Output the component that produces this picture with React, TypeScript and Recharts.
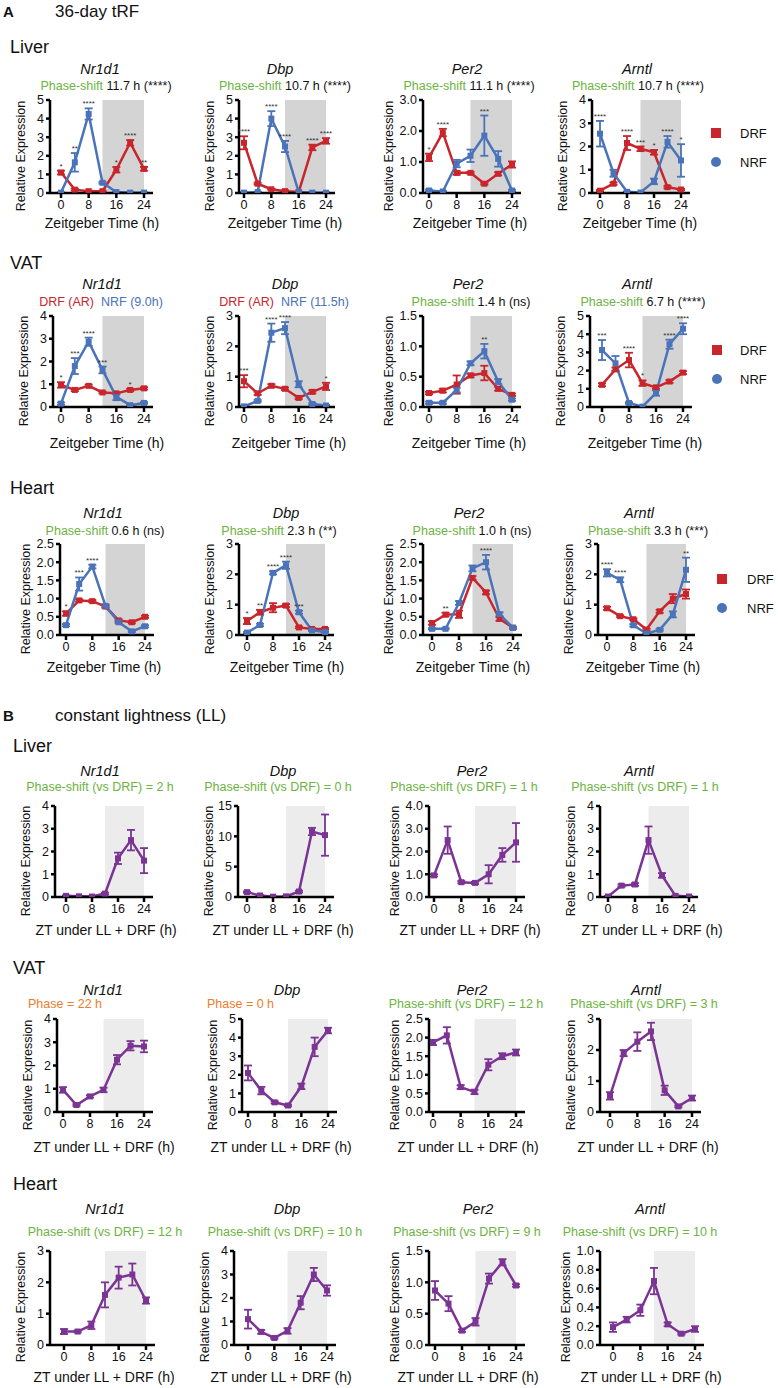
import React from 'react';
import { LineChart, Line, XAxis, YAxis, ReferenceArea, ErrorBar, LabelList } from 'recharts';

const zt = [0, 4, 8, 12, 16, 20, 24];
const xTicks = [0, 8, 16, 24];
const genes = ['Nr1d1', 'Dbp', 'Per2', 'Arntl'];

// ---- A: 36-day tRF (mean / sem), DRF vs NRF ----
const liverNr1d1DRF = [1.1, 0.18, 0.1, 0.1, 1.25, 2.7, 1.3];
const liverNr1d1DRFsem = [0.1, 0.05, 0.03, 0.03, 0.15, 0.15, 0.1];
const liverNr1d1NRF = [0.02, 1.65, 4.25, 0.55, 0.05, 0.02, 0.02];
const liverNr1d1NRFsem = [0.02, 0.5, 0.3, 0.05, 0.02, 0.02, 0.02];
const liverNr1d1Stars = ['*', '**', '****', '', '*', '****', '**'];

const liverDbpDRF = [2.7, 0.5, 0.2, 0.1, 0.05, 2.45, 2.8];
const liverDbpDRFsem = [0.35, 0.05, 0.03, 0.05, 0.02, 0.15, 0.15];
const liverDbpNRF = [0.02, 0.05, 4.0, 2.5, 0.05, 0.02, 0.02];
const liverDbpNRFsem = [0.02, 0.02, 0.4, 0.3, 0.02, 0.02, 0.02];
const liverDbpStars = ['****', '', '****', '****', '', '****', '****'];

const liverPer2DRF = [1.15, 1.95, 0.65, 0.65, 0.3, 0.62, 0.92];
const liverPer2DRFsem = [0.12, 0.12, 0.06, 0.03, 0.03, 0.05, 0.1];
const liverPer2NRF = [0.08, 0.05, 0.95, 1.2, 1.85, 1.1, 0.08];
const liverPer2NRFsem = [0.03, 0.02, 0.12, 0.2, 0.65, 0.25, 0.03];
const liverPer2Stars = ['*', '****', '', '', '***', '', ''];

const liverArntlDRF = [0.1, 0.4, 2.15, 1.9, 1.75, 0.25, 0.15];
const liverArntlDRFsem = [0.03, 0.05, 0.3, 0.1, 0.1, 0.05, 0.03];
const liverArntlNRF = [2.55, 0.85, 0.05, 0.02, 0.5, 2.2, 1.4];
const liverArntlNRFsem = [0.55, 0.15, 0.02, 0.02, 0.12, 0.25, 0.7];
const liverArntlStars = ['****', '', '****', '***', '*', '****', '*'];

const vatNr1d1DRF = [0.97, 0.75, 0.93, 0.64, 0.6, 0.75, 0.82];
const vatNr1d1DRFsem = [0.12, 0.05, 0.05, 0.04, 0.04, 0.05, 0.05];
const vatNr1d1NRF = [0.15, 1.8, 2.87, 1.63, 0.45, 0.08, 0.18];
const vatNr1d1NRFsem = [0.05, 0.35, 0.18, 0.15, 0.15, 0.04, 0.04];
const vatNr1d1Stars = ['*', '***', '****', '***', '', '*', ''];

const vatDbpDRF = [0.85, 0.45, 0.7, 0.6, 0.3, 0.5, 0.68];
const vatDbpDRFsem = [0.2, 0.05, 0.05, 0.04, 0.04, 0.05, 0.12];
const vatDbpNRF = [0.02, 0.2, 2.45, 2.6, 0.75, 0.1, 0.05];
const vatDbpNRFsem = [0.02, 0.03, 0.3, 0.2, 0.1, 0.03, 0.02];
const vatDbpStars = ['***', '', '****', '****', '', '', '*'];

const vatPer2DRF = [0.23, 0.27, 0.37, 0.52, 0.56, 0.3, 0.2];
const vatPer2DRFsem = [0.02, 0.03, 0.15, 0.03, 0.12, 0.03, 0.02];
const vatPer2NRF = [0.07, 0.07, 0.28, 0.72, 0.92, 0.42, 0.12];
const vatPer2NRFsem = [0.02, 0.02, 0.04, 0.03, 0.12, 0.04, 0.02];
const vatPer2Stars = ['', '', '', '', '**', '', ''];

const vatArntlDRF = [1.22, 2.07, 2.58, 1.31, 1.08, 1.4, 1.89];
const vatArntlDRFsem = [0.08, 0.1, 0.4, 0.15, 0.08, 0.08, 0.08];
const vatArntlNRF = [3.13, 2.4, 0.22, 0.02, 0.77, 3.45, 4.3];
const vatArntlNRFsem = [0.55, 0.4, 0.05, 0.02, 0.15, 0.25, 0.3];
const vatArntlStars = ['***', '', '****', '*', '', '****', '****'];

const heartNr1d1DRF = [0.59, 0.95, 0.93, 0.78, 0.4, 0.35, 0.5];
const heartNr1d1DRFsem = [0.06, 0.03, 0.03, 0.03, 0.03, 0.03, 0.03];
const heartNr1d1NRF = [0.27, 1.4, 1.88, 0.8, 0.35, 0.1, 0.24];
const heartNr1d1NRFsem = [0.03, 0.18, 0.05, 0.04, 0.03, 0.02, 0.03];
const heartNr1d1Stars = ['*', '***', '****', '', '', '', ''];

const heartDbpDRF = [0.46, 0.75, 0.9, 0.97, 0.25, 0.2, 0.2];
const heartDbpDRFsem = [0.1, 0.08, 0.15, 0.05, 0.03, 0.03, 0.03];
const heartDbpNRF = [0.08, 0.33, 2.05, 2.3, 0.75, 0.15, 0.1];
const heartDbpNRFsem = [0.02, 0.04, 0.05, 0.12, 0.05, 0.02, 0.02];
const heartDbpStars = ['*', '**', '****', '****', '***', '', ''];

const heartPer2DRF = [0.33, 0.56, 0.57, 1.57, 1.17, 0.44, 0.2];
const heartPer2DRFsem = [0.05, 0.05, 0.1, 0.05, 0.05, 0.05, 0.03];
const heartPer2NRF = [0.17, 0.17, 0.88, 1.83, 2.0, 0.57, 0.2];
const heartPer2NRFsem = [0.02, 0.02, 0.05, 0.08, 0.2, 0.05, 0.02];
const heartPer2Stars = ['', '**', '', '', '****', '', ''];

const heartArntlDRF = [0.88, 0.62, 0.52, 0.18, 0.78, 1.2, 1.35];
const heartArntlDRFsem = [0.05, 0.03, 0.03, 0.03, 0.05, 0.15, 0.15];
const heartArntlNRF = [2.05, 1.82, 0.32, 0.05, 0.17, 0.68, 2.15];
const heartArntlNRFsem = [0.12, 0.08, 0.04, 0.02, 0.03, 0.1, 0.4];
const heartArntlStars = ['****', '****', '', '', '', '', '**'];

// ---- B: constant lightness + DRF ----
const llLiverNr1d1 = [0.05, 0.03, 0.02, 0.15, 1.7, 2.5, 1.6];
const llLiverNr1d1Sem = [0.02, 0.02, 0.02, 0.04, 0.25, 0.45, 0.55];
const llLiverDbp = [0.8, 0.25, 0.05, 0.1, 0.9, 10.8, 10.2];
const llLiverDbpSem = [0.1, 0.05, 0.03, 0.05, 0.15, 0.6, 3.4];
const llLiverPer2 = [0.95, 2.5, 0.65, 0.62, 1.0, 1.85, 2.4];
const llLiverPer2Sem = [0.05, 0.6, 0.05, 0.05, 0.4, 0.3, 0.85];
const llLiverArntl = [0.02, 0.5, 0.55, 2.5, 0.95, 0.05, 0.02];
const llLiverArntlSem = [0.02, 0.05, 0.06, 0.6, 0.1, 0.02, 0.02];

const llVatNr1d1 = [0.95, 0.3, 0.67, 0.95, 2.25, 2.85, 2.82];
const llVatNr1d1Sem = [0.12, 0.04, 0.05, 0.1, 0.2, 0.2, 0.25];
const llVatDbp = [2.1, 1.15, 0.52, 0.35, 1.38, 3.5, 4.38];
const llVatDbpSem = [0.4, 0.2, 0.06, 0.05, 0.15, 0.5, 0.15];
const llVatPer2 = [1.87, 2.06, 0.67, 0.54, 1.27, 1.5, 1.6];
const llVatPer2Sem = [0.07, 0.22, 0.05, 0.06, 0.15, 0.08, 0.08];
const llVatArntl = [0.52, 1.9, 2.27, 2.6, 0.7, 0.18, 0.45];
const llVatArntlSem = [0.12, 0.1, 0.3, 0.28, 0.15, 0.03, 0.08];

const llHeartNr1d1 = [0.43, 0.43, 0.63, 1.6, 2.15, 2.25, 1.42];
const llHeartNr1d1Sem = [0.08, 0.03, 0.12, 0.4, 0.35, 0.35, 0.1];
const llHeartDbp = [1.1, 0.56, 0.3, 0.6, 1.8, 3.0, 2.32];
const llHeartDbpSem = [0.4, 0.08, 0.04, 0.12, 0.28, 0.28, 0.22];
const llHeartPer2 = [0.87, 0.66, 0.23, 0.37, 1.06, 1.32, 0.95];
const llHeartPer2Sem = [0.15, 0.12, 0.02, 0.06, 0.08, 0.05, 0.02];
const llHeartArntl = [0.19, 0.27, 0.37, 0.68, 0.22, 0.12, 0.17];
const llHeartArntlSem = [0.05, 0.03, 0.06, 0.14, 0.02, 0.01, 0.03];

// y tick labels
const t5 = [0, 1, 2, 3, 4, 5];
const t4 = [0, 1, 2, 3, 4];
const t3 = [0, 1, 2, 3];
const t15 = [0, 0.5, 1, 1.5];
const t25 = [0, 0.5, 1, 1.5, 2, 2.5];
const tDbp15 = [0, 5, 10, 15];
const t10 = [0, 0.2, 0.4, 0.6, 0.8, 1];

const shiftA = ['11.7 h (****)', '10.7 h (****)', '11.1 h (****)', '10.7 h (****)',
  '', '', '1.4 h (ns)', '6.7 h (****)',
  '0.6 h (ns)', '2.3 h (**)', '1.0 h (ns)', '3.3 h (***)'];
const shiftB = ['2 h', '0 h', '1 h', '1 h', '', '', '12 h', '3 h', '12 h', '10 h', '9 h', '10 h'];

const DRF = '#c9252c';
const NRF = '#4a73b9';
const LL = '#7b3494';
const GREEN = '#6db33f';
const ORANGE = '#ec7c2e';
const FONT = '"Liberation Sans", Arial, Helvetica, sans-serif';

type Row = { top: number; bottom: number; geneY: number; subY: number; titleY: number;
  axisX: number[]; x0: number[]; x24: number[]; geneX: number[]; subX: number[]; titleX: number[] };

const rowsA: Row[] = [
  { top: 100, bottom: 193, geneY: 69, subY: 86, titleY: 223,
    axisX: [50, 239, 423, 592], x0: [61, 244, 429, 600], x24: [144, 326, 512, 681],
    geneX: [100, 280, 467, 637], subX: [106, 285, 469, 638], titleX: [102, 285, 470, 640] },
  { top: 316, bottom: 407, geneY: 284, subY: 302, titleY: 443,
    axisX: [53, 239, 423, 590], x0: [61, 244, 429, 602], x24: [144, 326, 512, 683],
    geneX: [102, 285, 468, 637], subX: [101, 284, 471, 643], titleX: [107, 289, 469, 645] },
  { top: 544, bottom: 635, geneY: 513, subY: 531, titleY: 667,
    axisX: [60, 239, 423, 598], x0: [66, 247, 432, 607], x24: [145, 325, 513, 686],
    geneX: [103, 286, 469, 639], subX: [105, 279, 472, 648], titleX: [104, 287, 473, 643] },
];
const rowsB: Row[] = [
  { top: 806, bottom: 897, geneY: 771, subY: 787, titleY: 930,
    axisX: [55, 238, 429, 600], x0: [66, 247, 434, 608], x24: [144, 325, 516, 689],
    geneX: [100, 283, 472, 639], subX: [100, 278, 464, 645], titleX: [106, 283, 470, 652] },
  { top: 1019, bottom: 1112, geneY: 990, subY: 1004, titleY: 1147,
    axisX: [57, 242, 429, 600], x0: [63, 248, 433, 610], x24: [144, 328, 516, 692],
    geneX: [103, 287, 472, 646], subX: [28, 207, 466, 644], titleX: [104, 281, 468, 648] },
  { top: 1251, bottom: 1345, geneY: 1209, subY: 1232, titleY: 1377,
    axisX: [50, 234, 429, 600], x0: [64, 248, 435, 613], x24: [146, 327, 516, 695],
    geneX: [105, 287, 478, 650], subX: [105, 285, 467, 640], titleX: [104, 281, 468, 651] },
];

type SeriesSpec = { key: string; values: number[]; sem: number[]; color: string };
type ChartSpec = { series: SeriesSpec[]; stars?: string[]; yTicks: number[]; dec: number };

const ab = (drf: number[], drfSem: number[], nrf: number[], nrfSem: number[], stars: string[], yTicks: number[], dec: number): ChartSpec => ({
  series: [
    { key: 'drf', values: drf, sem: drfSem, color: DRF },
    { key: 'nrf', values: nrf, sem: nrfSem, color: NRF },
  ], stars, yTicks, dec,
});
const ll = (v: number[], sem: number[], yTicks: number[], dec: number): ChartSpec => ({
  series: [{ key: 'll', values: v, sem, color: LL }], yTicks, dec,
});

const chartsA: ChartSpec[] = [
  ab(liverNr1d1DRF, liverNr1d1DRFsem, liverNr1d1NRF, liverNr1d1NRFsem, liverNr1d1Stars, t5, 0),
  ab(liverDbpDRF, liverDbpDRFsem, liverDbpNRF, liverDbpNRFsem, liverDbpStars, t5, 0),
  ab(liverPer2DRF, liverPer2DRFsem, liverPer2NRF, liverPer2NRFsem, liverPer2Stars, t3, 1),
  ab(liverArntlDRF, liverArntlDRFsem, liverArntlNRF, liverArntlNRFsem, liverArntlStars, t4, 0),
  ab(vatNr1d1DRF, vatNr1d1DRFsem, vatNr1d1NRF, vatNr1d1NRFsem, vatNr1d1Stars, t4, 0),
  ab(vatDbpDRF, vatDbpDRFsem, vatDbpNRF, vatDbpNRFsem, vatDbpStars, t3, 0),
  ab(vatPer2DRF, vatPer2DRFsem, vatPer2NRF, vatPer2NRFsem, vatPer2Stars, t15, 1),
  ab(vatArntlDRF, vatArntlDRFsem, vatArntlNRF, vatArntlNRFsem, vatArntlStars, t5, 0),
  ab(heartNr1d1DRF, heartNr1d1DRFsem, heartNr1d1NRF, heartNr1d1NRFsem, heartNr1d1Stars, t25, 1),
  ab(heartDbpDRF, heartDbpDRFsem, heartDbpNRF, heartDbpNRFsem, heartDbpStars, t3, 0),
  ab(heartPer2DRF, heartPer2DRFsem, heartPer2NRF, heartPer2NRFsem, heartPer2Stars, t25, 1),
  ab(heartArntlDRF, heartArntlDRFsem, heartArntlNRF, heartArntlNRFsem, heartArntlStars, t3, 0),
];
const chartsB: ChartSpec[] = [
  ll(llLiverNr1d1, llLiverNr1d1Sem, t4, 0),
  ll(llLiverDbp, llLiverDbpSem, tDbp15, 0),
  ll(llLiverPer2, llLiverPer2Sem, t4, 1),
  ll(llLiverArntl, llLiverArntlSem, t4, 0),
  ll(llVatNr1d1, llVatNr1d1Sem, t4, 0),
  ll(llVatDbp, llVatDbpSem, t5, 0),
  ll(llVatPer2, llVatPer2Sem, t25, 1),
  ll(llVatArntl, llVatArntlSem, t3, 0),
  ll(llHeartNr1d1, llHeartNr1d1Sem, t3, 0),
  ll(llHeartDbp, llHeartDbpSem, t4, 0),
  ll(llHeartPer2, llHeartPer2Sem, t15, 1),
  ll(llHeartArntl, llHeartArntlSem, t10, 1),
];

function Txt({ x, y, size, anchor = 'middle', italic, bold, color = '#111', children }: any) {
  return (
    <div style={{
      position: 'absolute', left: x, top: y,
      transform: `translate(${anchor === 'middle' ? '-50%' : '0'}, -50%)`,
      fontSize: size, fontStyle: italic ? 'italic' : 'normal', fontWeight: bold ? 700 : 400,
      color, whiteSpace: 'nowrap', lineHeight: 1,
    }}>{children}</div>
  );
}

const squareDot = (color: string) => (p: any) => (
  <rect key={`d${p.index}`} x={p.cx - 3} y={p.cy - 3} width={6} height={6} fill={color} />
);

function Panel({ row, col, chart, shade, sub, subStart, xTitle }: {
  row: Row; col: number; chart: ChartSpec; shade: string; sub: React.ReactNode; subStart?: boolean; xTitle: string;
}) {
  const axisX = row.axisX[col];
  const x0 = row.x0[col];
  const x24 = row.x24[col];
  const pxPerH = (x24 - x0) / 24;
  const xMin = -(x0 - axisX) / pxPerH;
  const xMax = 24 + 9 / pxPerH;
  const plotW = x24 + 9 - axisX;
  const plotH = row.bottom - row.top;
  const YW = 40, MT = 14, XH = 26;
  const yMax = chart.yTicks[chart.yTicks.length - 1];
  const data = zt.map((t, i) => {
    const d: any = { t };
    let hi = 0;
    chart.series.forEach((s) => {
      d[s.key] = s.values[i];
      d[s.key + 'Err'] = s.sem[i];
      hi = Math.max(hi, s.values[i] + s.sem[i]);
    });
    d.starY = hi;
    d.stars = chart.stars ? chart.stars[i] : '';
    return d;
  });
  const labelOff = chart.dec > 0 ? 34 : 29;
  const axisStyle = { stroke: '#000', strokeWidth: 2.5 };
  return (
    <>
      <Txt x={row.geneX[col]} y={row.geneY} size={14.5} italic>{genes[col]}</Txt>
      <Txt x={row.subX[col]} y={row.subY} size={12.5} anchor={subStart ? 'start' : 'middle'}>{sub}</Txt>
      <div style={{
        position: 'absolute', left: axisX - labelOff, top: (row.top + row.bottom) / 2 + 9,
        transform: 'translate(-50%, -50%) rotate(-90deg)', fontSize: 12.5, whiteSpace: 'nowrap', lineHeight: 1, color: '#111',
      }}>Relative Expression</div>
      <div style={{ position: 'absolute', left: axisX - YW, top: row.top - MT }}>
        <LineChart width={YW + plotW + 4} height={MT + plotH + XH} data={data}
          margin={{ top: MT, right: 4, bottom: 0, left: 0 }}>
          <ReferenceArea x1={12} x2={24} fill={shade} fillOpacity={1} stroke="none" />
          <XAxis type="number" dataKey="t" domain={[xMin, xMax]} ticks={xTicks} allowDataOverflow interval={0}
            height={XH} axisLine={axisStyle} tickLine={axisStyle} tickSize={5}
            tick={{ fill: '#111', fontSize: 12.5, fontFamily: FONT }} />
          <YAxis type="number" domain={[0, yMax]} ticks={chart.yTicks} allowDataOverflow interval={0}
            width={YW} axisLine={axisStyle} tickLine={axisStyle} tickSize={4}
            tick={{ fill: '#111', fontSize: 12.5, fontFamily: FONT }}
            tickFormatter={(v: number) => v.toFixed(chart.dec)} />
          {chart.series.map((s) => (
            <Line key={s.key} dataKey={s.key} stroke={s.color} strokeWidth={2.5} isAnimationActive={false}
              dot={squareDot(s.color)} activeDot={false}>
              <ErrorBar dataKey={s.key + 'Err'} width={4} stroke={s.color} strokeWidth={1.8} direction="y" />
            </Line>
          ))}
          {chart.stars && (
            <Line dataKey="starY" stroke="none" dot={false} activeDot={false} isAnimationActive={false}>
              <LabelList dataKey="stars" position="top" offset={2} fontSize={8} fill="#333" fontFamily={FONT} />
            </Line>
          )}
        </LineChart>
      </div>
      <Txt x={row.titleX[col]} y={row.titleY} size={14}>{xTitle}</Txt>
    </>
  );
}

function LegendA({ x, y1, y2, tx }: { x: number; y1: number; y2: number; tx: number }) {
  return (
    <>
      <div style={{ position: 'absolute', left: x - 5, top: y1 - 5, width: 10, height: 10, background: DRF }} />
      <Txt x={tx} y={y1} size={13} anchor="start">DRF</Txt>
      <div style={{ position: 'absolute', left: x - 5, top: y2 - 5, width: 10, height: 10, borderRadius: '50%', background: NRF }} />
      <Txt x={tx} y={y2} size={13} anchor="start">NRF</Txt>
    </>
  );
}

const shiftLabel = (v: string) => (
  <><span style={{ color: GREEN }}>Phase-shift</span> {v}</>
);
const arLabel = (nrf: string) => (
  <><span style={{ color: DRF }}>DRF (AR)</span>&nbsp;&nbsp;<span style={{ color: NRF }}>{nrf}</span></>
);
const llLabel = (v: string) => <span style={{ color: GREEN }}>Phase-shift (vs DRF) = {v}</span>;

export default function App() {
  const organs = ['Liver', 'VAT', 'Heart'];
  const organYA = [47, 263, 488];
  const organYB = [746, 968, 1184];
  return (
    <div style={{ position: 'absolute', left: 0, top: 0, width: 778, height: 1388, background: '#fff', fontFamily: FONT, overflow: 'hidden' }}>
      <Txt x={3} y={11} size={15} bold anchor="start">A</Txt>
      <Txt x={55} y={11} size={17} anchor="start">36-day tRF</Txt>
      <Txt x={3} y={715} size={15} bold anchor="start">B</Txt>
      <Txt x={55} y={715} size={17} anchor="start">constant lightness (LL)</Txt>
      {organs.map((o, r) => (
        <React.Fragment key={'o' + o}>
          <Txt x={10} y={organYA[r]} size={18} anchor="start">{o}</Txt>
          <Txt x={13} y={organYB[r]} size={18} anchor="start">{o}</Txt>
        </React.Fragment>
      ))}
      {chartsA.map((c, i) => {
        const r = Math.floor(i / 4);
        const col = i % 4;
        let sub: React.ReactNode = shiftLabel(shiftA[i]);
        if (i === 4) sub = arLabel('NRF (9.0h)');
        if (i === 5) sub = arLabel('NRF (11.5h)');
        return (
          <Panel key={'a' + i} row={rowsA[r]} col={col} chart={c} shade="#d4d4d4" sub={sub}
            xTitle="Zeitgeber Time (h)" />
        );
      })}
      {chartsB.map((c, i) => {
        const r = Math.floor(i / 4);
        const col = i % 4;
        let sub: React.ReactNode = llLabel(shiftB[i]);
        let start = false;
        if (i === 4) { sub = <span style={{ color: ORANGE }}>Phase = 22 h</span>; start = true; }
        if (i === 5) { sub = <span style={{ color: ORANGE }}>Phase = 0 h</span>; start = true; }
        return (
          <Panel key={'b' + i} row={rowsB[r]} col={col} chart={c} shade="#ececec" sub={sub} subStart={start}
            xTitle="ZT under LL + DRF (h)" />
        );
      })}
      <LegendA x={716} y1={133} y2={162} tx={740} />
      <LegendA x={717} y1={350} y2={379} tx={740} />
      <LegendA x={722} y1={579} y2={608} tx={747} />
    </div>
  );
}
